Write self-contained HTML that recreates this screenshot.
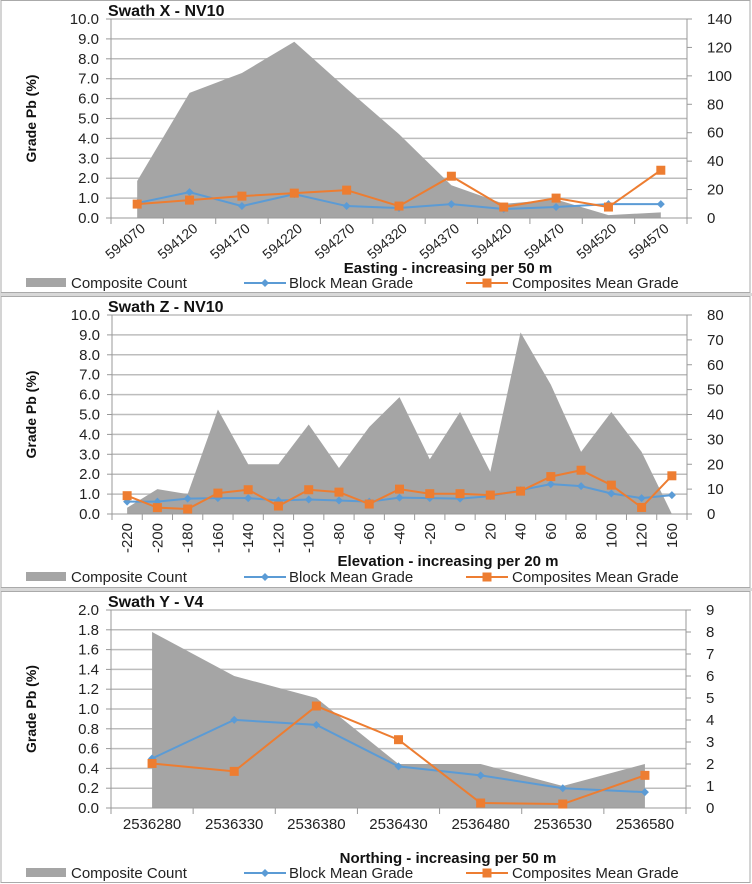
<!DOCTYPE html>
<html><head><meta charset="utf-8"><style>
html,body{margin:0;padding:0;background:#fff}
svg{display:block;font-family:"Liberation Sans",sans-serif}
</style></head><body>
<svg id="c" width="752" height="884" viewBox="0 0 752 884" xmlns="http://www.w3.org/2000/svg"></svg>
<script>
// Panel X
const xCats = ["594070","594120","594170","594220","594270","594320","594370","594420","594470","594520","594570"];
const xCount = [26,88,102,124,91,59,23,10,13,2,4];
const xBlock = [0.75,1.3,0.6,1.2,0.6,0.5,0.7,0.45,0.55,0.7,0.7];
const xComp = [0.7,0.9,1.1,1.25,1.4,0.6,2.1,0.55,1.0,0.55,2.4];
const xLeftTicks = [0,1,2,3,4,5,6,7,8,9,10];
const xRightTicks = [0,20,40,60,80,100,120,140];
// Panel Z
const zCats = ["-220","-200","-180","-160","-140","-120","-100","-80","-60","-40","-20","0","20","40","60","80","100","120","160"];
const zCount = [2.5,10,8,42,20,20,36,18.5,35,47,22,41,17,73,52,25,41,25,0];
const zBlock = [0.62,0.62,0.77,0.8,0.8,0.68,0.73,0.68,0.62,0.82,0.8,0.77,0.9,1.2,1.5,1.4,1.03,0.8,0.95];
const zComp = [0.92,0.32,0.25,1.05,1.22,0.4,1.22,1.1,0.5,1.25,1.02,1.02,0.95,1.15,1.88,2.2,1.45,0.33,1.92];
const zLeftTicks = [0,1,2,3,4,5,6,7,8,9,10];
const zRightTicks = [0,10,20,30,40,50,60,70,80];
// Panel Y
const yCats = ["2536280","2536330","2536380","2536430","2536480","2536530","2536580"];
const yCount = [8,6,5,2,2,1,2];
const yBlock = [0.5,0.89,0.84,0.42,0.33,0.2,0.16];
const yComp = [0.45,0.37,1.03,0.69,0.05,0.04,0.33];
const yLeftTicks = [0,0.2,0.4,0.6,0.8,1.0,1.2,1.4,1.6,1.8,2.0];
const yRightTicks = [0,1,2,3,4,5,6,7,8,9];

const NS="http://www.w3.org/2000/svg";
const svg=document.getElementById('c');
function mk(tag,attrs,parent,text){const e=document.createElementNS(NS,tag);for(const k in attrs)e.setAttribute(k,attrs[k]);if(text!==undefined)e.textContent=text;(parent||svg).appendChild(e);return e;}

function panel(o){
  const g=mk('g',{});
  
  
  const L=o.L,R=o.R,T=o.T,B=o.B;
  const lMax=o.lt[o.lt.length-1], rMax=o.rt[o.rt.length-1];
  const n=o.cats.length, bw=(R-L)/n;
  const xs=i=>L+bw*(i+0.5);
  const yl=v=>B-(v/lMax)*(B-T);
  const yr=v=>B-(v/rMax)*(B-T);
  o.lt.forEach((t,i)=>{
    const y=yl(t);
    if(i>0){const gl=mk('line',{x1:L,x2:R,y1:y,y2:y,stroke:'#bdbdbd','stroke-width':1.5},g);
      }
    mk('line',{x1:L-5,x2:L,y1:y,y2:y,stroke:'#999'},g);
    const tx=mk('text',{x:L-12,y:y+5,'text-anchor':'end','font-size':15,fill:'#222'},g,t.toFixed(1));
    
  });
  o.rt.forEach(t=>{
    const y=yr(t);
    mk('line',{x1:R,x2:R+5,y1:y,y2:y,stroke:'#999'},g);
    const tx=mk('text',{x:R+20,y:y+5,'font-size':15,fill:'#222'},g,String(t));
    
  });
  let d='M'+xs(0)+','+B;
  o.count.forEach((v,i)=>{d+=' L'+xs(i)+','+yr(v);});
  d+=' L'+xs(n-1)+','+B+' Z';
  const ar=mk('path',{d:d,fill:'#a5a5a5'},g);
  
  mk('line',{x1:L,x2:L,y1:T,y2:B,stroke:'#999'},g);
  mk('line',{x1:R,x2:R,y1:T,y2:B,stroke:'#999'},g);
  mk('line',{x1:L,x2:R,y1:B,y2:B,stroke:'#999'},g);
  for(let i=0;i<=n;i++){mk('line',{x1:L+bw*i,x2:L+bw*i,y1:B,y2:B+6,stroke:'#999'},g);}
  const lines=[[o.block,'#5b9bd5','block-mean-grade'],[o.comp,'#ed7d31','composites-mean-grade']];
  lines.forEach(([arr,col,nm])=>{
    const pts=arr.map((v,i)=>xs(i)+','+yl(v)).join(' ');
    const pl=mk('polyline',{points:pts,fill:'none',stroke:col,'stroke-width':2},g);
    
    arr.forEach((v,i)=>{
      let m;
      if(nm==='block-mean-grade'){m=mk('path',{d:`M${xs(i)},${yl(v)-4} l4,4 l-4,4 l-4,-4 z`,fill:col},g);}
      else{m=mk('rect',{x:xs(i)-4.5,y:yl(v)-4.5,width:9,height:9,fill:col},g);}
      
    });
  });
  o.cats.forEach((c,i)=>{
    let t;
    if(o.rot===45){t=mk('text',{x:xs(i)+9,y:B+12,'text-anchor':'end','font-size':14,fill:'#222',transform:`rotate(-40 ${xs(i)+9} ${B+12})`},g,c);}
    else if(o.rot===90){t=mk('text',{x:xs(i)+5,y:B+9,'text-anchor':'end','font-size':15,fill:'#222',transform:`rotate(-90 ${xs(i)+5} ${B+9})`},g,c);}
    else{t=mk('text',{x:xs(i),y:B+21,'text-anchor':'middle','font-size':15,fill:'#222'},g,c);}
    
  });
  const ti=mk('text',{x:108,y:o.titleY,'font-size':16,'font-weight':'bold',fill:'#111'},g,o.title);
  
  const yt=mk('text',{x:36,y:(T+B)/2,'text-anchor':'middle','font-size':14,'font-weight':'bold',fill:'#111',transform:`rotate(-90 36 ${(T+B)/2})`},g,'Grade Pb (%)');
  
  const xt=mk('text',{x:448,y:o.xtY,'text-anchor':'middle','font-size':15,'font-weight':'bold',fill:'#111'},g,o.xtitle);
  
  const ly=o.legY;
  const lg=mk('g',{},g);
  
  mk('rect',{x:26,y:ly-5,width:40,height:9,fill:'#a5a5a5'},lg);
  mk('text',{x:71,y:ly+5,'font-size':15,fill:'#222'},lg,'Composite Count');
  mk('line',{x1:244,x2:286,y1:ly,y2:ly,stroke:'#5b9bd5','stroke-width':2},lg);
  mk('path',{d:`M265,${ly-4} l4,4 l-4,4 l-4,-4 z`,fill:'#5b9bd5'},lg);
  mk('text',{x:289,y:ly+5,'font-size':15,fill:'#222'},lg,'Block Mean Grade');
  mk('line',{x1:466,x2:508,y1:ly,y2:ly,stroke:'#ed7d31','stroke-width':2},lg);
  mk('rect',{x:482.5,y:ly-4.5,width:9,height:9,fill:'#ed7d31'},lg);
  mk('text',{x:512,y:ly+5,'font-size':15,fill:'#222'},lg,'Composites Mean Grade');
}
mk('rect',{x:1,y:0.5,width:749,height:292,fill:'none',stroke:'#aaa'});
mk('rect',{x:1,y:296.5,width:749,height:291,fill:'none',stroke:'#aaa'});
mk('rect',{x:1,y:591.5,width:749,height:291,fill:'none',stroke:'#aaa'});
mk('rect',{x:0,y:293,width:752,height:3,fill:'#d8d8d8'});
mk('rect',{x:0,y:588,width:752,height:3,fill:'#d8d8d8'});

panel({id:'swath-x',L:111,R:687,T:19,B:218,cats:xCats,count:xCount,block:xBlock,comp:xComp,lt:xLeftTicks,rt:xRightTicks,rot:45,title:'Swath X - NV10',titleY:16,xtitle:'Easting  - increasing per 50 m',xtY:273,legY:283});
panel({id:'swath-z',L:112,R:687,T:315,B:514,cats:zCats,count:zCount,block:zBlock,comp:zComp,lt:zLeftTicks,rt:zRightTicks,rot:90,title:'Swath Z - NV10',titleY:312,xtitle:'Elevation - increasing per 20 m',xtY:566,legY:577});
panel({id:'swath-y',L:111,R:686,T:610,B:808,cats:yCats,count:yCount,block:yBlock,comp:yComp,lt:yLeftTicks,rt:yRightTicks,rot:0,title:'Swath Y - V4',titleY:607,xtitle:'Northing - increasing per 50 m',xtY:863,legY:873});
</script>
</body></html>
